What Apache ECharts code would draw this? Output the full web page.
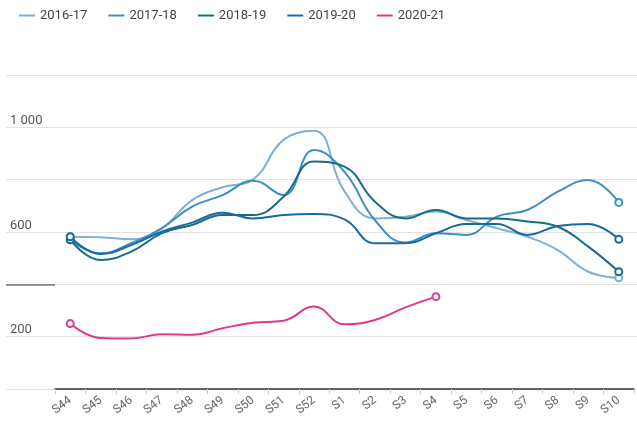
<!DOCTYPE html>
<html>
<head>
<meta charset="utf-8">
<script src="https://cdn.jsdelivr.net/npm/echarts@6/dist/echarts.min.js"></script>
<style>
html,body{margin:0;padding:0;background:#fff;}
#chart{width:637px;height:424px;}
</style>
</head>
<body>
<div id="chart"></div>
<script>
const categories = ['S44','S45','S46','S47','S48','S49','S50','S51','S52','S1','S2','S3','S4','S5','S6','S7','S8','S9','S10'];
const seriesNames = ['2016-17','2017-18','2018-19','2019-20','2020-21'];
const s2016 = [582,580,572,614,722,771,801,952,987,755,652,658,678,646,614,582,531,448,425];
const s2017 = [570,519,557,614,697,741,796,741,913,830,645,560,595,589,659,684,754,799,713];
const s2018 = [570,493,525,595,627,665,665,735,869,850,716,652,684,652,652,640,620,544,448];
const s2019 = [582,516,550,601,636,674,652,665,669,648,557,557,595,631,631,589,623,631,572];
const s2020 = [250,195,193,209,207,232,253,261,315,247,264,312,353];
const yTickLabels = {200:'200', 600:'600', 1000:'1 000'};
const colors = ['#7eb0d3','#3c8fc1','#166d84','#176aa3','#e0388e'];

const allData = [s2016, s2017, s2018, s2019, s2020];
const chart = echarts.init(document.getElementById('chart'));
const series = allData.map((d, k) => ({
  name: seriesNames[k],
  type: 'line',
  xAxisIndex: 0, yAxisIndex: 0,
  data: d,
  smooth: 0.45,
  symbol: 'circle',
  showSymbol: true,
  symbolSize: (v, p) => (p.dataIndex === 0 || p.dataIndex === d.length - 1) ? 7 : 0,
  itemStyle: { color: '#fff', borderColor: colors[k], borderWidth: 2 },
  lineStyle: { color: colors[k], width: 2 },
  color: colors[k],
  z: 3
}));

chart.setOption({
  animation: false,
  legend: {
    left: 14, top: 4,
    icon: 'rect', itemWidth: 16, itemHeight: 2, itemGap: 21,
    textStyle: { fontSize: 13, color: '#444', fontFamily: 'Roboto' },
    data: seriesNames.map((n, k) => ({ name: n, itemStyle: { color: colors[k], borderWidth: 0 } }))
  },
  grid: [
    { left: 55, right: 3, top: 75, bottom: 35 },
    { left: 6, right: 0, top: 75, bottom: 35 }
  ],
  xAxis: [
    {
      type: 'category', gridIndex: 0, data: categories, boundaryGap: true,
      axisLine: { lineStyle: { color: '#333', width: 1.5 } },
      axisTick: { show: true, length: 5, lineStyle: { color: '#ccc' } },
      axisLabel: { rotate: 38, color: '#666', fontSize: 12, fontFamily: 'Roboto', margin: 10, interval: 0 },
      z: 4
    },
    { type: 'value', gridIndex: 1, min: 0, max: 1, show: false }
  ],
  yAxis: [
    { type: 'value', gridIndex: 0, min: 0, max: 1200, interval: 200, show: false, splitLine: { show: false } },
    {
      type: 'value', gridIndex: 1, min: 0, max: 1200, interval: 200,
      axisLine: { show: false }, axisTick: { show: false },
      splitLine: { show: true, lineStyle: { color: '#e2e2e2', width: 1 } },
      axisLabel: {
        inside: true, margin: 4, verticalAlign: 'bottom', padding: [0, 0, 0, 0],
        color: '#555', fontSize: 13, fontFamily: 'Roboto',
        formatter: v => yTickLabels[v] || ''
      }
    }
  ],
  graphic: [{
    type: 'line', shape: { x1: 6, y1: 285, x2: 55, y2: 285 },
    style: { stroke: '#333', lineWidth: 1.2 }, z: 5
  }],
  series: series
});
</script>
</body>
</html>
